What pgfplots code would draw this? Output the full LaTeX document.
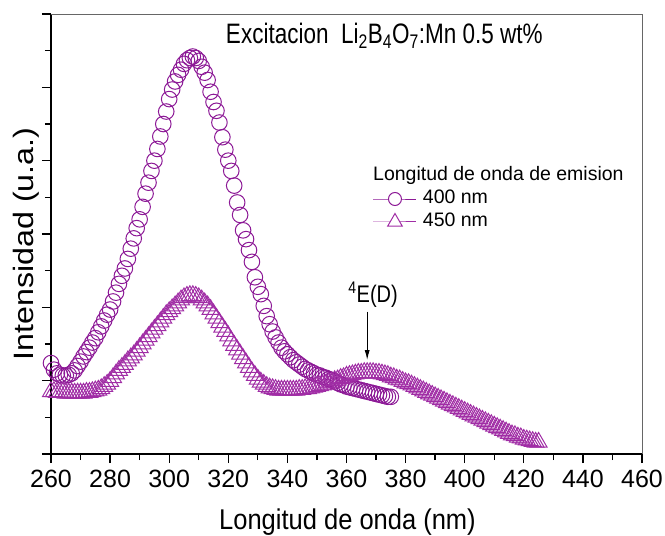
\documentclass[border=0pt]{standalone}
\usepackage{pgfplots}
\pgfplotsset{compat=1.18}
\usepackage{fontspec}
\setmainfont{Liberation Sans}
\usetikzlibrary{arrows.meta}
\definecolor{circ}{RGB}{140,25,150}
\definecolor{tri}{RGB}{160,45,165}
\begin{document}
\begin{tikzpicture}
\begin{axis}[
  name=ax,
  at={(0pt,0pt)}, anchor=south west,
  scale only axis, width=591pt, height=440pt,
  xmin=260, xmax=460, ymin=0, ymax=6,
  enlargelimits=false,
  axis x line=bottom, axis y line=left,
  axis line style={-, line width=1.5pt, black},
  xtick={260,280,...,460}, minor x tick num=1,
  ytick={0,1,...,6}, minor y tick num=1,
  yticklabels={},
  tick align=outside,
  major tick length=9pt, minor tick length=6pt,
  every tick/.append style={black, line width=1.3pt},
  /pgf/number format/assume math mode=true,
  /pgf/number format/1000 sep={},
  xticklabel style={font=\fontsize{25}{30}\selectfont, inner sep=0pt, anchor=north, yshift=-7pt},
  xlabel={\scalebox{1}[1.12]{Longitud de onda (nm)}},
  xlabel style={font=\fontsize{25.5}{30}\selectfont, at={(axis description cs:0.5017,-0.1716)}, anchor=base, inner sep=0pt},
  ylabel={\scalebox{1.15}[1]{Intensidad (u.a.)}},
  ylabel style={font=\fontsize{28}{32}\selectfont, at={(axis description cs:-0.0423,0.477)}, anchor=center, inner sep=0pt},
  legend image code/.code={\draw[mark repeat=2,mark phase=2,#1] plot coordinates {(0pt,0pt) (21.5pt,0pt) (43pt,0pt)};},
  legend style={draw=none, fill=none, inner sep=0pt, outer sep=0pt,
    at={(axis description cs:0.5448,0.6)}, anchor=north west,
    font=\fontsize{19.5}{23}\selectfont,
    nodes={inner sep=0pt, text height=14pt, text depth=4pt},
    row sep=5pt, column sep=6pt},
  legend cell align=left,
]
\addplot[only marks, mark=o, mark size=7.8pt, circ, mark options={line width=1pt}, forget plot] table {
x y
260 1.24
261 1.15
262 1.10
263 1.08
264 1.07
265 1.07
266 1.08
267 1.10
268 1.14
269 1.20
270 1.26
271 1.33
272 1.39
273 1.45
274 1.52
275 1.58
276 1.66
277 1.74
278 1.82
279 1.90
280 1.97
281 2.08
282 2.20
283 2.32
284 2.43
285 2.53
286 2.66
287 2.80
288 2.94
289 3.08
290 3.20
291 3.37
292 3.55
293 3.70
294 3.86
295 4.00
296 4.16
297 4.33
298 4.50
299 4.67
300 4.84
301 4.97
302 5.08
303 5.17
304 5.24
305 5.32
306 5.37
307 5.40
308 5.42
309 5.40
310 5.36
311 5.28
312 5.20
313 5.10
314 4.94
315 4.80
316 4.68
317 4.52
318 4.32
319 4.15
320 4.00
321 3.86
322 3.66
323 3.43
324 3.26
325 3.05
326 2.93
327 2.78
328 2.62
329 2.41
330 2.28
331 2.18
332 2.02
333 1.88
334 1.77
335 1.67
336 1.59
337 1.52
338 1.45
339 1.40
340 1.36
341 1.32
342 1.28
343 1.25
344 1.22
345 1.19
346 1.16
347 1.14
348 1.12
349 1.10
350 1.08
351 1.07
352 1.05
353 1.04
354 1.02
355 1.01
356 0.99
357 0.97
358 0.95
359 0.94
360 0.92
361 0.91
362 0.90
363 0.89
364 0.88
365 0.87
366 0.86
367 0.85
368 0.84
369 0.83
370 0.82
371 0.81
372 0.80
373 0.79
374 0.78
375 0.78
};
\addplot[only marks, mark=triangle, mark size=9.8pt, tri, mark options={line width=1pt}, forget plot] table {
x y
260 0.85
261 0.85
262 0.84
263 0.84
264 0.84
265 0.83
266 0.83
267 0.83
268 0.83
269 0.83
270 0.83
271 0.83
272 0.84
273 0.84
274 0.85
275 0.86
276 0.87
277 0.89
278 0.92
279 0.95
280 0.99
281 1.04
282 1.09
283 1.14
284 1.18
285 1.22
286 1.27
287 1.31
288 1.35
289 1.40
290 1.45
291 1.50
292 1.55
293 1.60
294 1.65
295 1.70
296 1.75
297 1.80
298 1.85
299 1.90
300 1.94
301 1.98
302 2.02
303 2.06
304 2.10
305 2.13
306 2.15
307 2.16
308 2.16
309 2.15
310 2.13
311 2.10
312 2.06
313 2.02
314 1.97
315 1.91
316 1.85
317 1.79
318 1.73
319 1.67
320 1.61
321 1.54
322 1.48
323 1.42
324 1.36
325 1.30
326 1.24
327 1.18
328 1.12
329 1.07
330 1.02
331 0.98
332 0.95
333 0.92
334 0.90
335 0.89
336 0.88
337 0.87
338 0.87
339 0.87
340 0.87
341 0.87
342 0.87
343 0.87
344 0.88
345 0.88
346 0.89
347 0.89
348 0.90
349 0.91
350 0.92
351 0.93
352 0.94
353 0.95
354 0.97
355 0.98
356 1.00
357 1.01
358 1.03
359 1.04
360 1.06
361 1.07
362 1.08
363 1.09
364 1.10
365 1.10
366 1.11
367 1.11
368 1.11
369 1.11
370 1.10
371 1.10
372 1.09
373 1.08
374 1.07
375 1.05
376 1.04
377 1.02
378 1.01
379 0.99
380 0.97
381 0.96
382 0.94
383 0.92
384 0.90
385 0.88
386 0.86
387 0.84
388 0.82
389 0.80
390 0.78
391 0.76
392 0.74
393 0.72
394 0.70
395 0.68
396 0.66
397 0.64
398 0.62
399 0.60
400 0.58
401 0.56
402 0.54
403 0.52
404 0.50
405 0.48
406 0.46
407 0.44
408 0.42
409 0.40
410 0.38
411 0.36
412 0.34
413 0.32
414 0.30
415 0.28
416 0.26
417 0.25
418 0.23
419 0.22
420 0.20
421 0.19
422 0.18
423 0.17
424 0.16
425 0.16
};
\addlegendimage{circ, line width=1pt, mark=*, mark size=6.5pt, mark options={fill=white, line width=1pt}}
\addlegendentry{400 nm}
\addlegendimage{tri, line width=1pt, mark=triangle*, mark size=8.5pt, mark options={fill=white, line width=1pt}}
\addlegendentry{450 nm}
\node[anchor=base, inner sep=0pt, font=\fontsize{22.5}{26}\selectfont] at (axis description cs:0.564,0.932)
  {\scalebox{1}[1.25]{Excitacion\ \ Li\textsubscript{2}B\textsubscript{4}O\textsubscript{7}:Mn 0.5 wt\%}};
\node[anchor=base west, inner sep=0pt, font=\fontsize{19.5}{23}\selectfont] at (axis description cs:0.5448,0.6227)
  {Longitud de onda de emision};
\node[anchor=base, inner sep=0pt, font=\fontsize{20}{24}\selectfont] at (axis cs:369,2.07)
  {\scalebox{1}[1.2]{\textsuperscript{4}E(D)}};
\draw[black, line width=1pt, -{Latex[length=10pt,width=5pt]}] (axis cs:367,1.94) -- (axis cs:367,1.28);
\end{axis}
\draw[gray!80!black, line width=1pt] (ax.north west) -- (ax.north east) -- (ax.south east);
\pgfresetboundingbox
\path[use as bounding box] (-51pt,-82pt) rectangle (614pt,454pt);
\end{tikzpicture}
\end{document}
